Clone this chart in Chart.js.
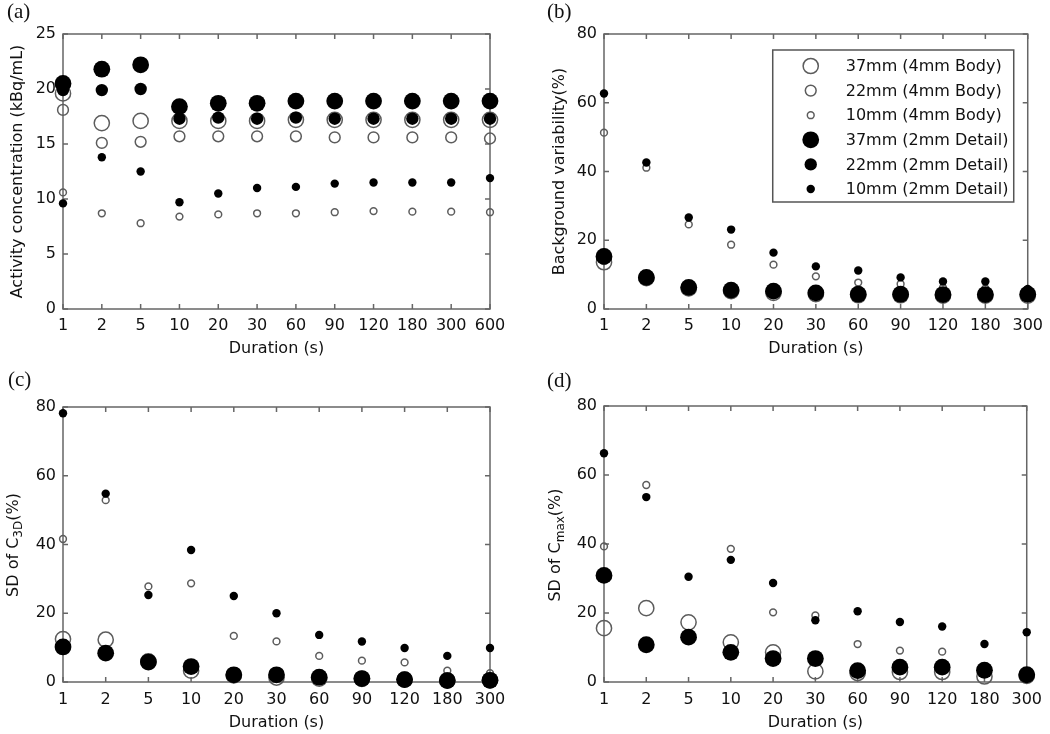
<!DOCTYPE html>
<html>
<head>
<meta charset="utf-8">
<script src="https://cdn.jsdelivr.net/npm/chart.js@4/dist/chart.umd.min.js"></script>
<style>
  body { margin: 0; background: #fff; width: 1050px; height: 734px; position: relative; overflow: hidden; font-family: "DejaVu Sans"; color: #111; }
  .panel { position: absolute; }
  .tag { position: absolute; font-family: "Liberation Serif"; font-size: 21px; line-height: 21px; color: #111; }
  .ytitle { position: absolute; font-size: 16px; line-height: 19px; white-space: nowrap; transform: translate(-50%, -50%) rotate(-90deg); }
  .ytitle sub { font-size: 12px; vertical-align: -4px; line-height: 0; }
</style>
</head>
<body>
<div class="panel" style="left:0;top:0;width:525px;height:360px"><canvas id="chartA"></canvas></div>
<div class="panel" style="left:525px;top:0;width:525px;height:360px"><canvas id="chartB"></canvas></div>
<div class="panel" style="left:0;top:360px;width:525px;height:374px"><canvas id="chartC"></canvas></div>
<div class="panel" style="left:525px;top:360px;width:525px;height:374px"><canvas id="chartD"></canvas></div>

<div class="tag" style="left:7px;top:1px">(a)</div>
<div class="tag" style="left:547px;top:1px">(b)</div>
<div class="tag" style="left:8px;top:369px">(c)</div>
<div class="tag" style="left:547px;top:370px">(d)</div>
<div class="ytitle" style="left:12px;top:545px">SD of C<sub>3D</sub>(%)</div>
<div class="ytitle" style="left:554px;top:545px">SD of C<sub>max</sub>(%)</div>

<script>
// ---- data ----
const durationsA = ['1', '2', '5', '10', '20', '30', '60', '90', '120', '180', '300', '600'];
const durations  = ['1', '2', '5', '10', '20', '30', '60', '90', '120', '180', '300'];
const seriesNames = ['37mm (4mm Body)', '22mm (4mm Body)', '10mm (4mm Body)',
                     '37mm (2mm Detail)', '22mm (2mm Detail)', '10mm (2mm Detail)'];

// (a) activity concentration, kBq/mL
const a37Body   = [19.6, 16.9, 17.1, 17.1, 17.1, 17.1, 17.2, 17.2, 17.2, 17.2, 17.2, 17.2];
const a22Body   = [18.1, 15.1, 15.2, 15.7, 15.7, 15.7, 15.7, 15.6, 15.6, 15.6, 15.6, 15.5];
const a10Body   = [10.6, 8.7, 7.8, 8.4, 8.6, 8.7, 8.7, 8.8, 8.9, 8.85, 8.85, 8.8];
const a37Detail = [20.5, 21.8, 22.2, 18.4, 18.7, 18.7, 18.9, 18.9, 18.9, 18.9, 18.9, 18.9];
const a22Detail = [19.9, 19.9, 20.0, 17.3, 17.4, 17.3, 17.4, 17.3, 17.3, 17.3, 17.3, 17.3];
const a10Detail = [9.6, 13.8, 12.5, 9.7, 10.5, 11.0, 11.1, 11.4, 11.5, 11.5, 11.5, 11.9];

// (b) background variability, %
const b37Body   = [13.6, 9.0, 6.0, 5.2, 4.7, 4.3, 4.0, 4.0, 3.9, 3.9, 3.9];
const b22Body   = [14.5, 9.3, 6.4, 5.6, 5.0, 4.6, 4.3, 4.2, 4.1, 4.1, 4.2];
const b10Body   = [51.3, 41.1, 24.6, 18.7, 12.9, 9.5, 7.7, 7.3, 6.2, 6.0, 5.2];
const b37Detail = [15.3, 9.2, 6.3, 5.5, 5.2, 4.7, 4.3, 4.3, 4.2, 4.2, 4.3];
const b22Detail = [15.8, 9.4, 6.6, 5.8, 5.4, 4.9, 4.6, 4.5, 4.4, 4.4, 4.5];
const b10Detail = [62.7, 42.6, 26.6, 23.1, 16.4, 12.4, 11.2, 9.2, 8.0, 8.0, 5.8];

// (c) SD of C3D, %
const c37Body   = [12.5, 12.3, 6.0, 3.3, 1.9, 1.3, 1.0, 0.9, 0.7, 0.5, 0.5];
const c22Body   = [10.8, 8.7, 6.1, 4.3, 2.3, 1.9, 1.3, 1.0, 0.8, 0.5, 0.6];
const c10Body   = [41.6, 52.9, 27.8, 28.7, 13.4, 11.8, 7.6, 6.2, 5.7, 3.3, 2.6];
const c37Detail = [10.2, 8.4, 5.8, 4.5, 2.1, 2.1, 1.4, 1.0, 0.7, 0.4, 0.5];
const c22Detail = [10.4, 8.6, 5.9, 4.7, 2.3, 2.0, 1.5, 1.1, 0.8, 0.5, 0.6];
const c10Detail = [78.2, 54.8, 25.3, 38.4, 25.0, 20.0, 13.7, 11.8, 9.9, 7.6, 9.9];

// (d) SD of Cmax, %
const d37Body   = [15.6, 21.4, 17.3, 11.5, 8.6, 3.1, 2.6, 2.9, 2.9, 1.6, 1.8];
const d22Body   = [31.0, 10.9, 13.1, 8.8, 7.0, 6.8, 3.4, 4.3, 4.2, 3.5, 2.2];
const d10Body   = [39.3, 57.1, 13.2, 38.6, 20.2, 19.3, 11.0, 9.1, 8.8, 3.8, 2.4];
const d37Detail = [30.9, 10.8, 13.0, 8.6, 6.8, 6.8, 3.3, 4.3, 4.3, 3.4, 2.1];
const d22Detail = [31.1, 11.0, 13.2, 8.8, 7.0, 6.9, 3.5, 4.4, 4.4, 3.5, 2.2];
const d10Detail = [66.3, 53.6, 30.5, 35.4, 28.7, 17.9, 20.5, 17.4, 16.1, 11.0, 14.4];

// ---- styling ----
const FONT = 'DejaVu Sans';
const markers = [
  { r: 7.6, fill: false }, { r: 5.4, fill: false }, { r: 3.4, fill: false },
  { r: 8.4, fill: true },  { r: 6.2, fill: true },  { r: 4.2, fill: true }
];

function buildSets(values) {
  return values.map((v, i) => {
    const m = markers[i];
    return {
      label: seriesNames[i],
      data: v,
      showLine: false,
      clip: false,
      order: m.fill ? 0 : 1,
      pointRadius: m.r,
      pointHoverRadius: m.r,
      pointBorderWidth: m.fill ? 0 : 1.5,
      pointBackgroundColor: m.fill ? '#000' : 'rgba(0,0,0,0)',
      pointBorderColor: m.fill ? '#000' : '#5c5c5c'
    };
  });
}

// matlab style box with inward ticks
const framePlugin = {
  id: 'frame',
  beforeDatasetsDraw(chart) {
    const { ctx, chartArea: a, scales: { x, y } } = chart;
    ctx.save();
    ctx.strokeStyle = '#666';
    ctx.lineWidth = 1.5;
    ctx.strokeRect(a.left, a.top, a.right - a.left, a.bottom - a.top);
    ctx.beginPath();
    y.ticks.forEach((t, i) => {
      const py = y.getPixelForTick(i);
      ctx.moveTo(a.left, py);  ctx.lineTo(a.left + 5, py);
      ctx.moveTo(a.right, py); ctx.lineTo(a.right - 5, py);
    });
    x.ticks.forEach((t, i) => {
      const px = x.getPixelForTick(i);
      ctx.moveTo(px, a.bottom); ctx.lineTo(px, a.bottom - 5);
      ctx.moveTo(px, a.top);    ctx.lineTo(px, a.top + 5);
    });
    ctx.stroke();
    ctx.restore();
  }
};

const legendPlugin = {
  id: 'boxLegend',
  afterDatasetsDraw(chart) {
    const { ctx, chartArea: a } = chart;
    const left = a.right - 255, top = a.top + 16, w = 241, h = 152;
    ctx.save();
    ctx.fillStyle = '#fff';
    ctx.fillRect(left, top, w, h);
    ctx.strokeStyle = '#555';
    ctx.lineWidth = 1.5;
    ctx.strokeRect(left, top, w, h);
    ctx.font = '16px "' + FONT + '"';
    ctx.textBaseline = 'middle';
    chart.data.datasets.forEach((ds, i) => {
      const cy = top + 16 + i * 24.6;
      ctx.beginPath();
      ctx.arc(left + 38, cy, ds.pointRadius, 0, Math.PI * 2);
      if (ds.pointBorderWidth > 0) {
        ctx.lineWidth = ds.pointBorderWidth;
        ctx.strokeStyle = ds.pointBorderColor;
        ctx.stroke();
      } else {
        ctx.fillStyle = ds.pointBackgroundColor;
        ctx.fill();
      }
      ctx.fillStyle = '#111';
      ctx.fillText(ds.label, left + 73, cy + 1);
    });
    ctx.restore();
  }
};

function makePanel(id, labels, values, yMax, yStep, yTitle, box, extra) {
  const canvas = document.getElementById(id);
  const H = canvas.parentNode.clientHeight, W = canvas.parentNode.clientWidth;
  return new Chart(canvas, {
    type: 'line',
    data: { labels: labels, datasets: buildSets(values) },
    options: {
      responsive: true,
      maintainAspectRatio: false,
      animation: false,
      layout: { padding: { left: 0, top: box.top, right: W - box.right, bottom: 0 } },
      plugins: { legend: { display: false }, tooltip: { enabled: false } },
      scales: {
        x: {
          type: 'category',
          offset: false,
          grid: { display: false, drawTicks: false },
          border: { display: false },
          ticks: { color: '#111', padding: box.xPad, font: { family: FONT, size: 16 }, maxRotation: 0, autoSkip: false },
          title: { display: true, text: 'Duration (s)', color: '#111', font: { family: FONT, size: 16 }, padding: { top: 0, bottom: 2 } },
          afterFit: s => { s.height = H - box.bottom; }
        },
        y: {
          min: 0, max: yMax,
          grid: { display: false, drawTicks: false },
          border: { display: false },
          ticks: { stepSize: yStep, color: '#111', padding: 7, font: { family: FONT, size: 16 } },
          title: { display: !!yTitle, text: yTitle || '', color: '#111', font: { family: FONT, size: 16 }, padding: { top: box.titlePad, bottom: 0 } },
          afterFit: s => { s.width = box.left; }
        }
      }
    },
    plugins: [framePlugin].concat(extra || [])
  });
}

makePanel('chartA', durationsA, [a37Body, a22Body, a10Body, a37Detail, a22Detail, a10Detail],
  25, 5, 'Activity concentration (kBq/mL)', { left: 63, top: 34, right: 490, bottom: 309, xPad: 7, titlePad: 8 });
makePanel('chartB', durations, [b37Body, b22Body, b10Body, b37Detail, b22Detail, b10Detail],
  80, 20, 'Background variability(%)', { left: 79, top: 34, right: 507, bottom: 309, xPad: 7, titlePad: 25 }, [legendPlugin]);
makePanel('chartC', durations, [c37Body, c22Body, c10Body, c37Detail, c22Detail, c10Detail],
  80, 20, '', { left: 63, top: 47, right: 490, bottom: 322, xPad: 8, titlePad: 0 });
makePanel('chartD', durations, [d37Body, d22Body, d10Body, d37Detail, d22Detail, d10Detail],
  80, 20, '', { left: 79, top: 46, right: 507, bottom: 322, xPad: 8, titlePad: 0 });
</script>
</body>
</html>
